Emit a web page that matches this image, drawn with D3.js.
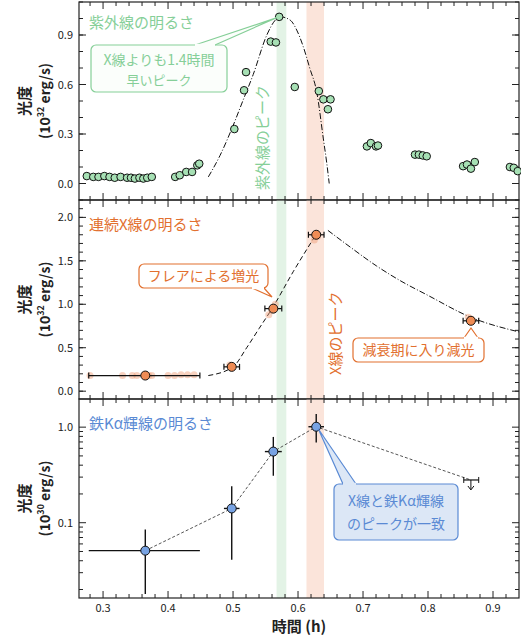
<!DOCTYPE html>
<html><head><meta charset="utf-8">
<script src="https://cdn.jsdelivr.net/npm/d3@7"></script>
<style>
body{margin:0;background:#fff}
text{font-family:"Noto Sans CJK JP","Noto Sans",sans-serif}
</style></head><body>
<div id="chart"></div>
<script>
// UV light curve
const uvX = [0.275,0.285,0.293,0.302,0.31,0.318,0.327, 0.337,0.343,0.349,0.356,0.362,0.368,0.375,
  0.411,0.418,0.428,0.437,0.445,0.448, 0.502,0.517,0.52,0.558,0.566,0.571,0.595,
  0.632,0.639,0.646,0.65, 0.706,0.712,0.72,0.723, 0.78,0.786,0.792,0.798,
  0.854,0.86,0.866,0.872, 0.926,0.932,0.938]
const uvY = [0.045,0.04,0.04,0.045,0.04,0.035,0.04, 0.035,0.035,0.03,0.035,0.03,0.035,0.04,
  0.04,0.05,0.07,0.07,0.11,0.12, 0.33,0.565,0.675,0.86,0.855,1.01,0.585,
  0.56,0.51,0.45,0.51, 0.225,0.245,0.225,0.23, 0.175,0.175,0.17,0.165,
  0.105,0.115,0.09,0.13, 0.1,0.095,0.075]
const uvModelX = [0.462,0.48,0.5,0.515,0.531,0.552,0.565,0.573,0.588,0.598,0.608,0.618,0.629,0.639,0.644,0.648]
const uvModelY = [0.04,0.17,0.35,0.5,0.66,0.9,0.99,1.01,0.99,0.93,0.83,0.7,0.55,0.27,0.13,0.0]

// continuum X-ray
const xrX = [0.365,0.498,0.562,0.628,0.866]
const xrY = [0.18,0.28,0.95,1.8,0.81]
const xrLo = [0.278,0.486,0.549,0.616,0.854]
const xrHi = [0.449,0.51,0.575,0.64,0.878]
const xrFaintX = [0.28,0.33,0.345,0.352,0.37,0.375,0.4,0.41,0.42,0.43,0.44,0.495,0.555,0.56,0.565,0.625,0.63,0.862,0.866]
const xrFaintY = [0.18,0.18,0.18,0.18,0.18,0.18,0.18,0.18,0.19,0.19,0.19,0.3,0.88,0.93,1.0,1.74,1.78,0.85,0.83]
const riseX = [0.462,0.5,0.521,0.54,0.56,0.593,0.625]
const riseY = [0.18,0.28,0.5,0.72,0.95,1.38,1.77]
const decayX = [0.646,0.68,0.721,0.76,0.798,0.866,0.941]
const decayY = [1.85,1.66,1.44,1.26,1.11,0.85,0.68]

// Fe K alpha
const feX = [0.365,0.498,0.562,0.628]
const feY = [0.051,0.141,0.555,1.01]
const feXLo = [0.278,0.486,0.549,0.616]
const feXHi = [0.449,0.51,0.575,0.64]
const feYLo = [0.018,0.041,0.31,0.69]
const feYHi = [0.085,0.24,0.79,1.37]
const feLimX = 0.866, feLimLo = 0.855, feLimHi = 0.878, feLimY = 0.28

const xTicks = [0.3,0.4,0.5,0.6,0.7,0.8,0.9]
const uvBand = [0.567,0.582], xrBand = [0.613,0.64]

const W = 521, H = 640
const L = 79, R = 519
const green = '#86cf98', orange = '#e2702f', blue = '#5a8ad4'
const svg = d3.select('#chart').append('svg').attr('width', W).attr('height', H)
const x = d3.scaleLinear().domain([0.263, 0.94]).range([L, R])

const panels = [
  {top: 2, bot: 200, y: d3.scaleLinear().domain([-0.1, 1.1]).range([200, 2]),
   ticks: [0, 0.3, 0.6, 0.9], minor: d3.range(-0.1, 1.1, 0.1), fmt: d3.format('.1f'), exp: '32'},
  {top: 200, bot: 399, y: d3.scaleLinear().domain([-0.09, 2.2]).range([399, 200]),
   ticks: [0, 0.5, 1, 1.5, 2], minor: d3.range(0, 2.2, 0.1), fmt: d3.format('.1f'), exp: '32'},
  {top: 399, bot: 598, y: d3.scaleLog().domain([0.0163, 1.97]).range([598, 399]),
   ticks: [0.1, 1], minor: [0.02,0.03,0.04,0.05,0.06,0.07,0.08,0.09,0.2,0.3,0.4,0.5,0.6,0.7,0.8,0.9], fmt: d => d === 1 ? '1.0' : '0.1', exp: '30'}
]

const xMinor = d3.range(0.28, 0.94, 0.02)

panels.forEach((p, i) => {
  const g = svg.append('g')
  // bands
  ;[[uvBand, '#e3f3e6'], [xrBand, '#fbe4da']].forEach(([b, c]) => {
    g.append('rect').attr('x', x(b[0])).attr('y', p.top).attr('width', x(b[1]) - x(b[0]))
      .attr('height', p.bot - p.top).attr('fill', c)
  })
  g.append('rect').attr('x', L).attr('y', p.top).attr('width', R - L).attr('height', p.bot - p.top)
    .attr('fill', 'none').attr('stroke', '#222').attr('stroke-width', 1.2)
  // x ticks top and bottom
  xMinor.forEach(v => {
    const big = xTicks.some(t => Math.abs(t - v) < 1e-6)
    const len = big ? 7 : 4
    g.append('line').attr('x1', x(v)).attr('x2', x(v)).attr('y1', p.bot).attr('y2', p.bot - len).attr('stroke', '#222')
    g.append('line').attr('x1', x(v)).attr('x2', x(v)).attr('y1', p.top).attr('y2', p.top + len).attr('stroke', '#222')
  })
  p.minor.forEach(v => {
    if (p.y(v) < p.top || p.y(v) > p.bot) return
    g.append('line').attr('x1', L).attr('x2', L + 4).attr('y1', p.y(v)).attr('y2', p.y(v)).attr('stroke', '#222')
    g.append('line').attr('x1', R).attr('x2', R - 4).attr('y1', p.y(v)).attr('y2', p.y(v)).attr('stroke', '#222')
  })
  p.ticks.forEach(v => {
    g.append('line').attr('x1', L).attr('x2', L + 7).attr('y1', p.y(v)).attr('y2', p.y(v)).attr('stroke', '#222')
    g.append('line').attr('x1', R).attr('x2', R - 7).attr('y1', p.y(v)).attr('y2', p.y(v)).attr('stroke', '#222')
    g.append('text').attr('x', L - 6).attr('y', p.y(v) + 4).attr('text-anchor', 'end')
      .attr('font-size', 11).attr('fill', '#222').text(p.fmt(v))
  })
  // y label
  const cy = (p.top + p.bot) / 2
  const lab = g.append('g').attr('transform', `translate(30,${cy}) rotate(-90)`)
  lab.append('text').attr('x', 0).attr('y', 0).attr('text-anchor', 'middle').attr('font-size', 15)
    .attr('font-weight', 'bold').attr('fill', '#222').text('光度')
  const t2 = lab.append('text').attr('x', 0).attr('y', 20).attr('text-anchor', 'middle').attr('font-size', 14)
    .attr('font-weight', 'bold').attr('fill', '#222')
  t2.append('tspan').text('(10')
  t2.append('tspan').attr('font-size', 9).attr('dy', -6).text(p.exp)
  t2.append('tspan').attr('dy', 6).text(' erg/s)')
  p.g = g
})

// x tick labels
xTicks.forEach(v => {
  svg.append('text').attr('x', x(v)).attr('y', 612).attr('text-anchor', 'middle').attr('font-size', 11)
    .attr('fill', '#222').text(v.toFixed(1))
})
svg.append('text').attr('x', (L + R) / 2).attr('y', 632).attr('text-anchor', 'middle').attr('font-size', 15)
  .attr('font-weight', 'bold').attr('fill', '#222').text('時間 (h)')

function vtext(g, cx, bottom, txt, color) {
  g.append('text').attr('transform', `translate(${cx + 6},${bottom}) rotate(-90)`)
    .attr('font-size', 15).attr('fill', color).text(txt)
}
function callout(g, x0, y0, w, h, lines, color, fill, tip, base) {
  g.append('rect').attr('x', x0).attr('y', y0).attr('width', w).attr('height', h).attr('rx', 5)
    .attr('fill', fill).attr('stroke', color).attr('stroke-width', 1.2)
  g.append('path').attr('d', `M${base[0][0]},${base[0][1]}L${tip[0]},${tip[1]}L${base[1][0]},${base[1][1]}`)
    .attr('fill', fill).attr('stroke', color).attr('stroke-width', 1.2)
  g.append('line').attr('x1', base[0][0]).attr('y1', base[0][1]).attr('x2', base[1][0]).attr('y2', base[1][1])
    .attr('stroke', fill).attr('stroke-width', 2.5)
  lines.forEach(l => {
    g.append('text').attr('x', x0 + w / 2).attr('y', y0 + l.dy).attr('text-anchor', 'middle')
      .attr('font-size', l.size).attr('fill', color).text(l.t)
  })
}

// ---- panel 1
const p1 = panels[0], g1 = p1.g
vtext(g1, 262, 190, '紫外線のピーク', green)
g1.append('path').datum(d3.zip(uvModelX, uvModelY))
  .attr('d', d3.line().x(d => x(d[0])).y(d => p1.y(d[1])).curve(d3.curveMonotoneX))
  .attr('fill', 'none').attr('stroke', '#111').attr('stroke-width', 1).attr('stroke-dasharray', '6,2,1,2')
g1.selectAll('circle.uv').data(d3.zip(uvX, uvY)).join('circle')
  .attr('cx', d => x(d[0])).attr('cy', d => p1.y(d[1])).attr('r', 3.8)
  .attr('fill', '#a6e0b4').attr('stroke', '#111').attr('stroke-width', 1)
g1.append('text').attr('x', 89).attr('y', 28).attr('font-size', 15).attr('fill', green).text('紫外線の明るさ')
callout(g1, 91, 45, 136, 47, [{t: 'X線よりも1.4時間', dy: 20, size: 14}, {t: '早いピーク', dy: 40, size: 13}],
  green, '#fbfefb', [x(0.571) - 3, p1.y(1.01) + 1], [[195, 45], [215, 45]])

// ---- panel 2
const p2 = panels[1], g2 = p2.g
vtext(g2, 335, 375, 'X線のピーク', orange)
const ln2 = d3.line().x(d => x(d[0])).y(d => p2.y(d[1])).curve(d3.curveMonotoneX)
g2.append('path').datum(d3.zip(riseX, riseY)).attr('d', ln2).attr('fill', 'none').attr('stroke', '#111')
  .attr('stroke-dasharray', '5,3')
g2.append('path').datum(d3.zip(decayX, decayY)).attr('d', ln2).attr('fill', 'none').attr('stroke', '#111')
  .attr('stroke-dasharray', '6,2,1,2')
g2.selectAll('circle.f').data(d3.zip(xrFaintX, xrFaintY)).join('circle')
  .attr('cx', d => x(d[0])).attr('cy', d => p2.y(d[1])).attr('r', 3.5)
  .attr('fill', '#ef9b74').attr('opacity', 0.45)
xrX.forEach((v, i) => {
  const yy = p2.y(xrY[i])
  g2.append('line').attr('x1', x(xrLo[i])).attr('x2', x(xrHi[i])).attr('y1', yy).attr('y2', yy).attr('stroke', '#111').attr('stroke-width', 1.2)
  ;[xrLo[i], xrHi[i]].forEach(e => g2.append('line').attr('x1', x(e)).attr('x2', x(e)).attr('y1', yy - 3).attr('y2', yy + 3).attr('stroke', '#111').attr('stroke-width', 1.2))
  g2.append('circle').attr('cx', x(v)).attr('cy', yy).attr('r', 4.5).attr('fill', '#ef8c55').attr('stroke', '#111')
})
g2.append('text').attr('x', 89).attr('y', 230).attr('font-size', 15).attr('fill', orange).text('連続X線の明るさ')
callout(g2, 139, 264, 129, 24, [{t: 'フレアによる増光', dy: 17, size: 14}], orange, '#fff',
  [272, 297], [[252, 288], [264, 288]])
callout(g2, 353, 338, 131, 24, [{t: '減衰期に入り減光', dy: 17, size: 14}], orange, '#fff',
  [471, 328], [[464, 338], [478, 338]])

// ---- panel 3
const p3 = panels[2], g3 = p3.g
g3.append('path').datum(d3.zip(feX.concat([feLimX]), feY.concat([feLimY])))
  .attr('d', d3.line().x(d => x(d[0])).y(d => p3.y(d[1])))
  .attr('fill', 'none').attr('stroke', '#555').attr('stroke-dasharray', '3,2')
feX.forEach((v, i) => {
  const xx = x(v), yy = p3.y(feY[i])
  g3.append('line').attr('x1', x(feXLo[i])).attr('x2', x(feXHi[i])).attr('y1', yy).attr('y2', yy).attr('stroke', '#111').attr('stroke-width', 1.4)
  g3.append('line').attr('x1', xx).attr('x2', xx).attr('y1', p3.y(feYLo[i])).attr('y2', p3.y(feYHi[i])).attr('stroke', '#111').attr('stroke-width', 1.4)
  g3.append('circle').attr('cx', xx).attr('cy', yy).attr('r', 4.5).attr('fill', '#78a3e3').attr('stroke', '#111')
})
const ly = p3.y(feLimY)
g3.append('line').attr('x1', x(feLimLo)).attr('x2', x(feLimHi)).attr('y1', ly).attr('y2', ly).attr('stroke', '#111').attr('stroke-width', 1.2)
;[feLimLo, feLimHi].forEach(e => g3.append('line').attr('x1', x(e)).attr('x2', x(e)).attr('y1', ly - 3).attr('y2', ly + 3).attr('stroke', '#111'))
g3.append('line').attr('x1', x(feLimX)).attr('x2', x(feLimX)).attr('y1', ly).attr('y2', ly + 9).attr('stroke', '#111')
g3.append('path').attr('d', `M${x(feLimX) - 3},${ly + 6}L${x(feLimX)},${ly + 10}L${x(feLimX) + 3},${ly + 6}`).attr('fill', 'none').attr('stroke', '#111')
g3.append('text').attr('x', 89).attr('y', 429).attr('font-size', 15).attr('fill', blue).text('鉄Kα輝線の明るさ')
callout(g3, 334, 484, 124, 56, [{t: 'X線と鉄Kα輝線', dy: 22, size: 14}, {t: 'のピークが一致', dy: 45, size: 14}],
  blue, '#dce7f6', [x(0.628) + 2, p3.y(1.01) + 2], [[343, 484], [356, 484]])
</script>
</body></html>
